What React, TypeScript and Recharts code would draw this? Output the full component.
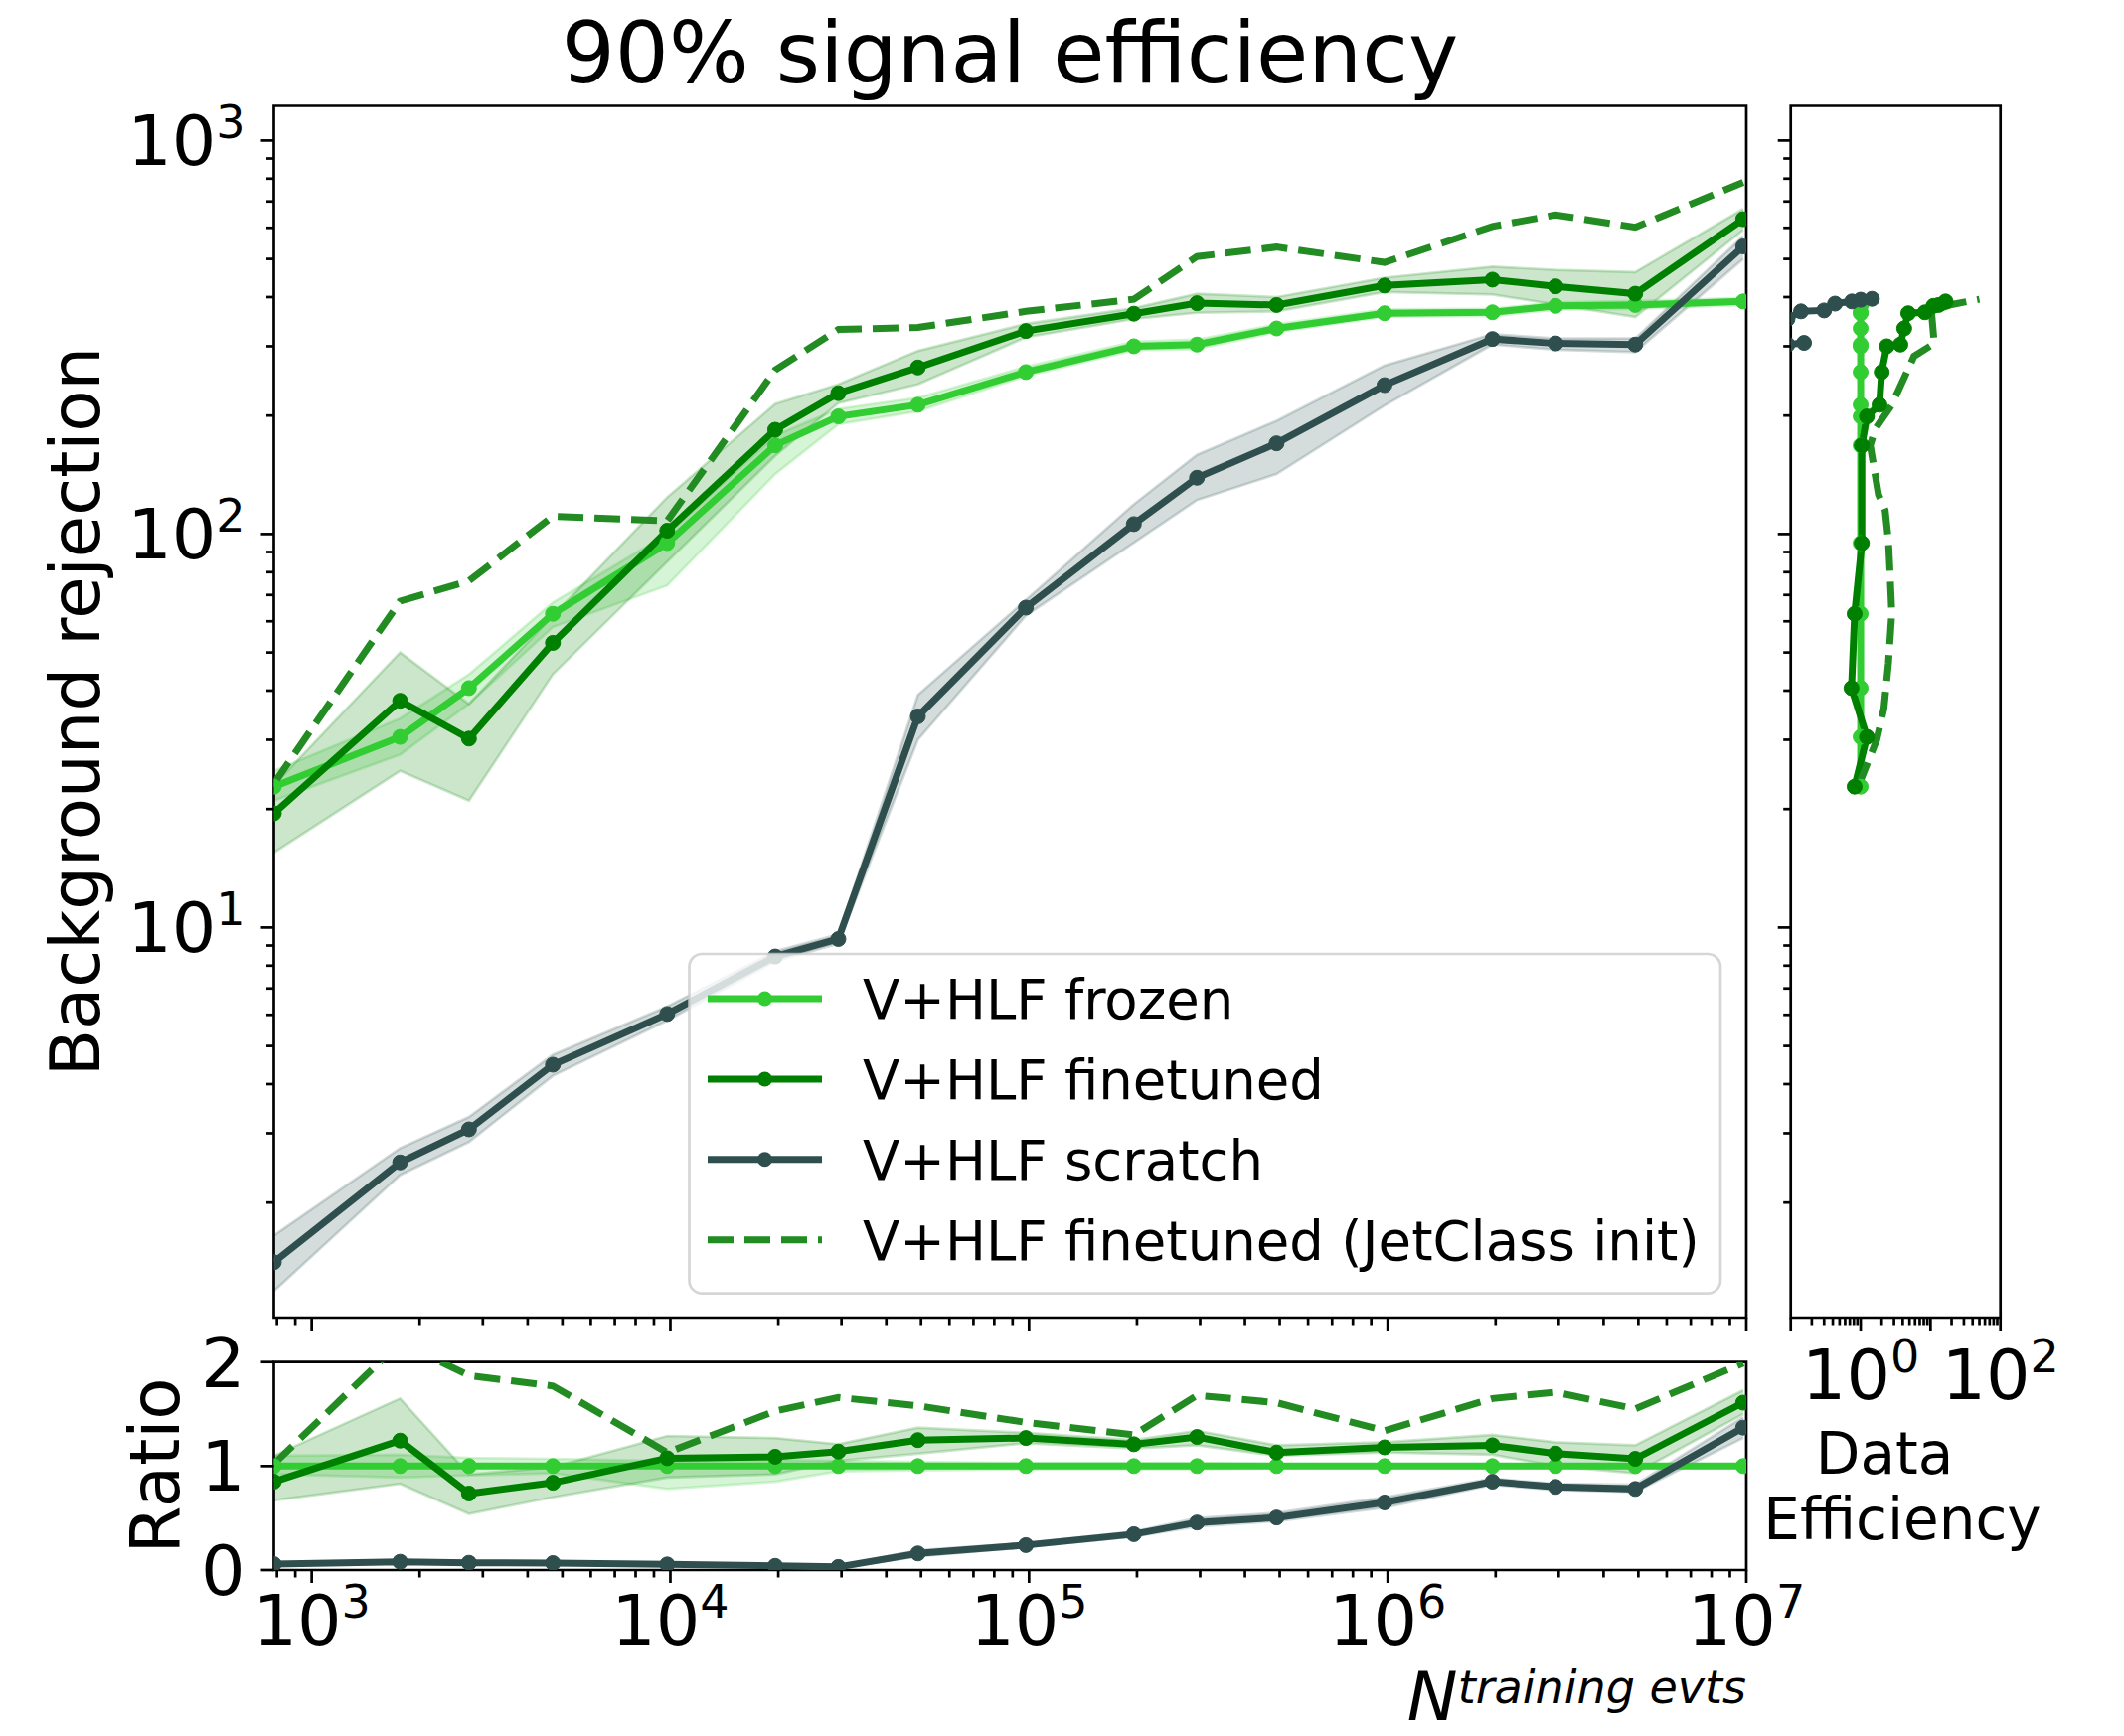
import React from 'react'
import { ComposedChart, Line, Area, XAxis, YAxis, CartesianGrid, ReferenceArea } from 'recharts'

const FONT = '"DejaVu Sans", sans-serif'

// training-set sizes
const nEvents = [784, 1764, 2744, 4704, 9800, 19600, 29400, 49000, 98000, 196000, 294000, 490000, 980000, 1960000, 2940000, 4900000, 9800000]

// background rejection at 90% signal efficiency
const frozen = [22.8, 30.5, 40.6, 62.7, 94.8, 168, 199, 213, 258, 300, 303, 333, 364, 366, 380, 382, 390]
const frozenLo = [21, 27.5, 37, 58, 74, 142, 190, 205, 252, 293, 295, 326, 357, 358, 372, 373, 382]
const frozenHi = [25, 34, 44, 67, 100, 178, 208, 222, 266, 308, 312, 341, 372, 374, 388, 391, 398]

const finetuned = [19.5, 37.7, 30.2, 52.9, 102, 184, 228, 265, 328, 363, 386, 382, 428, 443, 426, 408, 631]
const finetunedLo = [15.5, 25, 21, 44, 85, 158, 215, 240, 316, 352, 365, 368, 412, 406, 383, 356, 592]
const finetunedHi = [23, 50, 37, 62, 124, 214, 240, 292, 342, 375, 408, 400, 448, 478, 469, 463, 670]

const scratch = [1.41, 2.53, 3.07, 4.48, 6.03, 8.44, 9.35, 34.4, 65, 106, 139, 170, 239, 313, 305, 303, 538]
const scratchLo = [1.19, 2.35, 2.85, 4.2, 5.8, 8.2, 9.1, 30, 62, 95, 122, 142, 212, 303, 294, 290, 500]
const scratchHi = [1.65, 2.75, 3.3, 4.75, 6.3, 8.7, 9.6, 39, 68, 119, 159, 194, 268, 322, 314, 314, 572]

const jetInit = [23.2, 67.5, 76, 111, 108, 261, 331, 335, 368, 395, 507, 536, 490, 605, 647, 602, 783]

// ratio to frozen
const frozenRatio = [1, 1, 1, 1, 1, 1, 1, 1, 1, 1, 1, 1, 1, 1, 1, 1, 1]
const frozenRatioLo = [0.92, 0.89, 0.91, 0.93, 0.78, 0.85, 0.95, 0.96, 0.97, 0.97, 0.97, 0.98, 0.98, 0.98, 0.98, 0.98, 0.98]
const frozenRatioHi = [1.1, 1.11, 1.08, 1.07, 1.05, 1.06, 1.05, 1.04, 1.03, 1.03, 1.03, 1.02, 1.02, 1.02, 1.02, 1.02, 1.02]
const finetunedRatio = [0.85, 1.245, 0.736, 0.84, 1.076, 1.09, 1.14, 1.25, 1.27, 1.21, 1.28, 1.13, 1.18, 1.2, 1.12, 1.07, 1.61]
const finetunedRatioLo = [0.67, 0.83, 0.54, 0.7, 0.89, 0.92, 1.05, 1.12, 1.22, 1.17, 1.2, 1.1, 1.13, 1.11, 1.0, 0.93, 1.5]
const finetunedRatioHi = [1.1, 1.65, 0.92, 0.99, 1.29, 1.27, 1.21, 1.37, 1.32, 1.25, 1.34, 1.2, 1.23, 1.3, 1.23, 1.2, 1.73]
const scratchRatio = [0.057, 0.08, 0.07, 0.067, 0.054, 0.04, 0.03, 0.16, 0.24, 0.345, 0.457, 0.505, 0.65, 0.85, 0.8, 0.78, 1.37]
const scratchRatioLo = [0.045, 0.07, 0.06, 0.058, 0.045, 0.032, 0.022, 0.13, 0.22, 0.32, 0.42, 0.47, 0.6, 0.82, 0.77, 0.75, 1.27]
const scratchRatioHi = [0.07, 0.09, 0.08, 0.076, 0.063, 0.048, 0.038, 0.19, 0.26, 0.37, 0.5, 0.55, 0.7, 0.88, 0.83, 0.82, 1.47]
const jetRatio = [1.02, 2.19, 1.87, 1.77, 1.13, 1.53, 1.66, 1.58, 1.42, 1.3, 1.68, 1.61, 1.34, 1.65, 1.71, 1.55, 1.99]

// data efficiency panel: x = efficiency, y = rejection
const frozenEff = [1, 1, 1, 1, 1, 1, 1, 1, 1, 1, 1, 1, 1, 1, 1, 1, 1]
const finetunedEff = [0.82, 1.23, 0.74, 0.82, 1.04, 1.04, 1.23, 1.86, 2.0, 2.37, 3.7, 4.2, 4.8, 8.3, 11, 13, 16.4]
const scratchEffX = [0.155, 0.09, 0.06, 0.09, 0.14, 0.3, 0.43, 0.75, 1.0, 1.45]
const scratchEffY = [306, 303, 330, 352, 368, 370, 385, 390, 394, 396]
const jetEffX = [0.92, 1.7, 2.15, 2.5, 2.79, 2.62, 2.5, 2.24, 1.8, 1.37, 1.62, 2.8, 5.8, 11.3, 10.3, 20, 50]
const jetEffY = [22.8, 30, 36, 47, 63, 81, 96, 115, 126, 168, 185, 213, 283, 305, 368, 383, 395]

const xMajor = [1e3, 1e4, 1e5, 1e6, 1e7]
const yMajor = [10, 100, 1000]
const effMajor = [1, 10]
const xLabelExps = [3, 4, 5, 6, 7]
const yLabelExps = [1, 2, 3]
const effLabelExps = [0, 2]
const ratioTicks = [0, 1, 2]

const C_FROZEN = '#32cd32'
const C_FINE = '#008000'
const C_SCRATCH = '#2f4f4f'
const C_JET = '#228b22'
const GRID = '#b0b0b0'

const legendItems = [
  { label: 'V+HLF frozen', color: C_FROZEN, dashed: false },
  { label: 'V+HLF finetuned', color: C_FINE, dashed: false },
  { label: 'V+HLF scratch', color: C_SCRATCH, dashed: false },
  { label: 'V+HLF finetuned (JetClass init)', color: C_JET, dashed: true },
]

const mainData = nEvents.map((n, i) => ({
  n,
  frozen: frozen[i],
  frozenBand: [frozenLo[i], frozenHi[i]],
  finetuned: finetuned[i],
  finetunedBand: [finetunedLo[i], finetunedHi[i]],
  scratch: scratch[i],
  scratchBand: [scratchLo[i], scratchHi[i]],
  jet: jetInit[i],
}))

const ratioData = nEvents.map((n, i) => ({
  n,
  frozen: frozenRatio[i],
  frozenBand: [frozenRatioLo[i], frozenRatioHi[i]],
  finetuned: finetunedRatio[i],
  finetunedBand: [finetunedRatioLo[i], finetunedRatioHi[i]],
  scratch: scratchRatio[i],
  scratchBand: [scratchRatioLo[i], scratchRatioHi[i]],
  jet: jetRatio[i],
}))

const frozenEffData = frozenEff.map((e, i) => ({ eff: e, r: frozen[i] }))
const finetunedEffData = finetunedEff.map((e, i) => ({ eff: e, r: frozen[i] }))
const scratchEffData = scratchEffX.map((e, i) => ({ eff: e, r: scratchEffY[i] }))
const jetEffData = jetEffX.map((e, i) => ({ eff: e, r: jetEffY[i] }))

const X_DOM = [784, 1e7]
const Y_DOM = [1.02, 1225]
const EFF_DOM = [0.1, 100]

// 1..9 x 10^k between lo and hi
const logTicks = (lo, hi) => {
  const out = []
  for (let e = Math.floor(Math.log10(lo)); e <= Math.ceil(Math.log10(hi)); e++) {
    for (let k = 1; k <= 9; k++) {
      const v = k * Math.pow(10, e)
      if (v >= lo * 0.999 && v <= hi * 1.001) out.push(v)
    }
  }
  return out
}
const isMajor = (v) => Math.abs(Math.log10(v) - Math.round(Math.log10(v))) < 1e-6

const TICK_W = 2.7
const MAJ = 13
const MIN = 7.5

const Pow = ({ x, y, exp, anchor }) => (
  <text x={x} y={y} textAnchor={anchor} fontFamily={FONT} fontSize={70} fill="#000">
    10<tspan dy={-27} fontSize={46}>{exp}</tspan>
  </text>
)

const bottomLogTick = (exps, labelDy) => (p) => {
  const { x, y, payload } = p
  const v = payload.value
  const major = isMajor(v)
  const exp = Math.round(Math.log10(v))
  return (
    <g>
      <line x1={x} y1={y} x2={x} y2={y + (major ? MAJ : MIN)} stroke="#000" strokeWidth={TICK_W} />
      {major && exps.includes(exp) && <Pow x={x} y={y + labelDy} exp={exp} anchor="middle" />}
    </g>
  )
}

const leftLogTick = (exps) => (p) => {
  const { x, y, payload } = p
  const v = payload.value
  const major = isMajor(v)
  const exp = Math.round(Math.log10(v))
  return (
    <g>
      <line x1={x} y1={y} x2={x - (major ? MAJ : MIN)} y2={y} stroke="#000" strokeWidth={TICK_W} />
      {major && exps.includes(exp) && <Pow x={x - 29} y={y + 25} exp={exp} anchor="end" />}
    </g>
  )
}

const ratioTick = (p) => {
  const { x, y, payload } = p
  return (
    <g>
      <line x1={x} y1={y} x2={x - MAJ} y2={y} stroke="#000" strokeWidth={TICK_W} />
      <text x={x - 29} y={y + 25} textAnchor="end" fontFamily={FONT} fontSize={70} fill="#000">
        {payload.value}
      </text>
    </g>
  )
}

const gridGen = (vals, key) => (props) => {
  const axis = props && props[key]
  const s = axis && axis.scale
  if (typeof s !== 'function') return []
  return vals.map((v) => s(v))
}

const bandProps = (color) => ({
  type: 'linear',
  stroke: color,
  strokeOpacity: 0.2,
  strokeWidth: 2.7,
  fill: color,
  fillOpacity: 0.2,
  isAnimationActive: false,
  activeDot: false,
  dot: false,
})

const lineProps = (color, dashed) => ({
  type: 'linear',
  stroke: color,
  strokeWidth: 7,
  strokeDasharray: dashed ? '26 11' : undefined,
  dot: dashed ? false : { r: 7.5, fill: color, stroke: color, strokeWidth: 1 },
  activeDot: false,
  isAnimationActive: false,
})

const Frame = ({ x, y }) => (
  <ReferenceArea x1={x[0]} x2={x[1]} y1={y[0]} y2={y[1]} fill="none" stroke="#000" strokeWidth={2.7} ifOverflow="visible" />
)

const MainPanel = () => (
  <ComposedChart width={1800} height={1340} data={mainData} margin={{ top: 106.5, right: 43, bottom: 0, left: 0 }}>
    <CartesianGrid
      stroke={GRID}
      strokeWidth={2.7}
      verticalCoordinatesGenerator={gridGen(xMajor, 'xAxis')}
      horizontalCoordinatesGenerator={gridGen(yMajor, 'yAxis')}
    />
    <XAxis dataKey="n" type="number" scale="log" domain={X_DOM} allowDataOverflow ticks={logTicks(X_DOM[0], X_DOM[1])}
      interval={0} height={14} tickSize={0} tickMargin={0} axisLine={false} tickLine={false} tick={bottomLogTick([], 0)} />
    <YAxis type="number" scale="log" domain={Y_DOM} allowDataOverflow ticks={logTicks(Y_DOM[0], Y_DOM[1])}
      interval={0} width={275.5} tickSize={0} tickMargin={0} axisLine={false} tickLine={false} tick={leftLogTick(yLabelExps)} />
    <Area dataKey="frozenBand" {...bandProps(C_FROZEN)} />
    <Area dataKey="finetunedBand" {...bandProps(C_FINE)} />
    <Area dataKey="scratchBand" {...bandProps(C_SCRATCH)} />
    <Line dataKey="frozen" {...lineProps(C_FROZEN, false)} />
    <Line dataKey="finetuned" {...lineProps(C_FINE, false)} />
    <Line dataKey="scratch" {...lineProps(C_SCRATCH, false)} />
    <Line dataKey="jet" {...lineProps(C_JET, true)} />
    <Frame x={X_DOM} y={Y_DOM} />
  </ComposedChart>
)

const RatioPanel = () => (
  <ComposedChart width={1860} height={447} data={ratioData} margin={{ top: 70.7, right: 103, bottom: 0, left: 0 }}>
    <CartesianGrid
      stroke={GRID}
      strokeWidth={2}
      horizontal={false}
      verticalCoordinatesGenerator={gridGen(xMajor, 'xAxis')}
    />
    <XAxis dataKey="n" type="number" scale="log" domain={X_DOM} allowDataOverflow ticks={logTicks(X_DOM[0], X_DOM[1])}
      interval={0} height={167} tickSize={0} tickMargin={0} axisLine={false} tickLine={false} tick={bottomLogTick(xLabelExps, 75)} />
    <YAxis type="number" domain={[0, 2]} allowDataOverflow ticks={ratioTicks}
      interval={0} width={275.5} tickSize={0} tickMargin={0} axisLine={false} tickLine={false} tick={ratioTick} />
    <Area dataKey="frozenBand" {...bandProps(C_FROZEN)} />
    <Area dataKey="finetunedBand" {...bandProps(C_FINE)} />
    <Area dataKey="scratchBand" {...bandProps(C_SCRATCH)} />
    <Line dataKey="frozen" {...lineProps(C_FROZEN, false)} />
    <Line dataKey="finetuned" {...lineProps(C_FINE, false)} />
    <Line dataKey="scratch" {...lineProps(C_SCRATCH, false)} />
    <Line dataKey="jet" {...lineProps(C_JET, true)} />
    <Frame x={X_DOM} y={[0, 2]} />
  </ComposedChart>
)

const EffPanel = () => (
  <ComposedChart width={377} height={1450} margin={{ top: 106.5, right: 124.3, bottom: 0, left: 0 }}>
    <CartesianGrid
      stroke={GRID}
      strokeWidth={2.7}
      verticalCoordinatesGenerator={gridGen(effMajor, 'xAxis')}
      horizontalCoordinatesGenerator={gridGen(yMajor, 'yAxis')}
    />
    <XAxis dataKey="eff" type="number" scale="log" domain={EFF_DOM} allowDataOverflow ticks={logTicks(EFF_DOM[0], EFF_DOM[1])}
      interval={0} height={124} tickSize={0} tickMargin={0} axisLine={false} tickLine={false} tick={bottomLogTick(effLabelExps, 82)} />
    <YAxis dataKey="r" type="number" scale="log" domain={Y_DOM} allowDataOverflow ticks={logTicks(Y_DOM[0], Y_DOM[1])}
      interval={0} width={41.7} tickSize={0} tickMargin={0} axisLine={false} tickLine={false} tick={leftLogTick([])} />
    <Line data={frozenEffData} dataKey="r" {...lineProps(C_FROZEN, false)} />
    <Line data={finetunedEffData} dataKey="r" {...lineProps(C_FINE, false)} />
    <Line data={scratchEffData} dataKey="r" {...lineProps(C_SCRATCH, false)} />
    <Line data={jetEffData} dataKey="r" {...lineProps(C_JET, true)} />
    <Frame x={EFF_DOM} y={Y_DOM} />
  </ComposedChart>
)

const Legend = () => {
  const left = 693.5
  const top = 960
  const rowY = [1005, 1086, 1166.7, 1247.7]
  return (
    <g>
      <rect x={left} y={top} width={1037.5} height={341.7} rx={13} ry={13} fill="#fff" fillOpacity={0.8}
        stroke="#cccccc" strokeOpacity={0.8} strokeWidth={2.7} />
      {legendItems.map((it, i) => (
        <g key={it.label}>
          <line x1={712} y1={rowY[i]} x2={827} y2={rowY[i]} stroke={it.color} strokeWidth={7}
            strokeDasharray={it.dashed ? '26 11' : undefined} />
          {!it.dashed && <circle cx={769.5} cy={rowY[i]} r={7.5} fill={it.color} />}
          <text x={868} y={rowY[i] + 20} fontFamily={FONT} fontSize={54.5} fill="#000">{it.label}</text>
        </g>
      ))}
    </g>
  )
}

export default function App() {
  return (
    <div style={{ position: 'absolute', left: 0, top: 0, width: 2137, height: 1747, background: '#fff', fontFamily: FONT }}>
      <div style={{ position: 'absolute', left: 0, top: 0 }}>
        <MainPanel />
      </div>
      <div style={{ position: 'absolute', left: 0, top: 1300 }}>
        <RatioPanel />
      </div>
      <div style={{ position: 'absolute', left: 1760, top: 0 }}>
        <EffPanel />
      </div>
      <svg width={2137} height={1747} style={{ position: 'absolute', left: 0, top: 0, pointerEvents: 'none' }}>
        <text x={1016} y={83} textAnchor="middle" fontFamily={FONT} fontSize={85} fill="#000">90% signal efficiency</text>
        <text transform="translate(100,716) rotate(-90)" textAnchor="middle" fontFamily={FONT} fontSize={69} fill="#000">
          Background rejection
        </text>
        <text transform="translate(180,1475) rotate(-90)" textAnchor="middle" fontFamily={FONT} fontSize={69} fill="#000">
          Ratio
        </text>
        <text x={1757} y={1731} textAnchor="end" fontFamily={FONT} fontStyle="italic" fill="#000">
          <tspan fontSize={68}>N</tspan>
          <tspan fontSize={46} dy={-17}>training evts</tspan>
        </text>
        <text x={1896} y={1483} textAnchor="middle" fontFamily={FONT} fontSize={58} fill="#000">Data</text>
        <text x={1914} y={1549} textAnchor="middle" fontFamily={FONT} fontSize={58} fill="#000">Efficiency</text>
        <Legend />
      </svg>
    </div>
  )
}
